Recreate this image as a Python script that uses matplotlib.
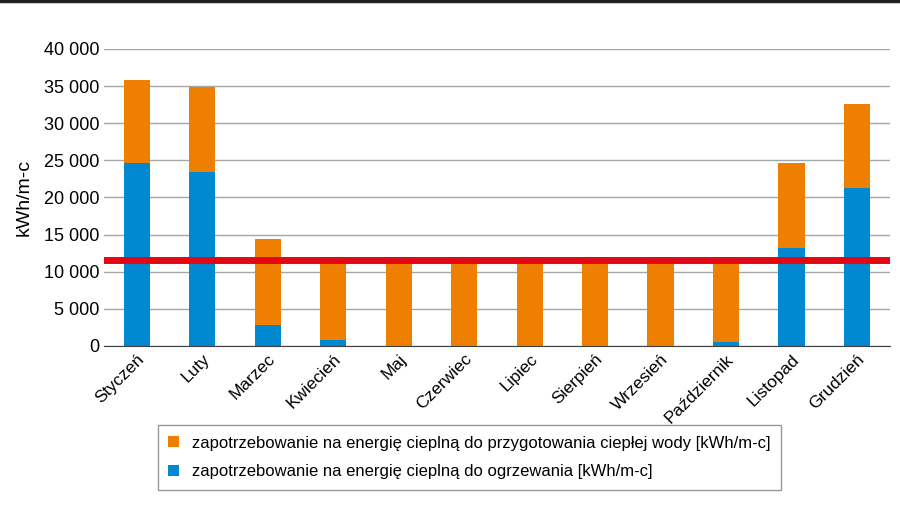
import matplotlib.pyplot as plt
from matplotlib.lines import Line2D
from matplotlib.ticker import FuncFormatter
import numpy as np

# data (kWh/m-c)
months = ['Styczeń', 'Luty', 'Marzec', 'Kwiecień', 'Maj', 'Czerwiec', 'Lipiec',
          'Sierpień', 'Wrzesień', 'Październik', 'Listopad', 'Grudzień']
heating = [24600, 23400, 2800, 800, 0, 0, 0, 0, 0, 500, 13200, 21300]
hot_water = [11200, 11500, 11600, 10500, 11300, 11300, 11300, 11300, 11300, 10800, 11400, 11300]
limit = 11600

orange = '#EE7F00'
blue = '#0089D0'
red = '#E30613'

plt.rcParams['font.family'] = ['Liberation Sans Narrow', 'Liberation Sans', 'DejaVu Sans']

fig = plt.figure(figsize=(9, 5.05), dpi=100)
ax = fig.add_axes([0.1156, 0.315, 0.873, 0.588])

x = np.arange(len(months))
ax.bar(x, heating, width=0.4, color=blue, zorder=2,
       label='zapotrzebowanie na energię cieplną do ogrzewania [kWh/m-c]')
ax.bar(x, hot_water, width=0.4, bottom=heating, color=orange, zorder=2,
       label='zapotrzebowanie na energię cieplną do przygotowania ciepłej wody [kWh/m-c]')
ax.axhline(limit, color=red, lw=5, zorder=3)

ax.set_xlim(-0.5, len(months) - 0.5)
ax.set_ylim(0, 40000)
ax.set_yticks(range(0, 40001, 5000))
ax.yaxis.set_major_formatter(FuncFormatter(lambda v, p: f'{int(v):,}'.replace(',', ' ')))
ax.grid(axis='y', color='#A6A6A6', lw=1, zorder=0)
for s in ['top', 'right', 'left']:
    ax.spines[s].set_visible(False)
ax.spines['bottom'].set_color('#404040')
ax.tick_params(axis='both', length=0, labelsize=13)
ax.tick_params(axis='x', pad=4)
ax.set_xticks(x)
ax.set_xticklabels(months, rotation=45, ha='right', rotation_mode='anchor', fontsize=12.5)
ax.set_ylabel('kWh/m-c', fontsize=14, labelpad=8)

handles, labels = ax.get_legend_handles_labels()
leg = fig.legend(handles[::-1], labels[::-1], loc='upper left',
                 bbox_to_anchor=(0.175, 0.158), bbox_transform=fig.transFigure,
                 fontsize=12, frameon=True, fancybox=False, edgecolor='#7F7F7F',
                 handlelength=0.6, handleheight=0.6, handletextpad=0.8,
                 borderpad=0.65, labelspacing=0.8, borderaxespad=0)
leg.get_frame().set_linewidth(1)
for h in leg.legend_handles:
    h.set_width(8)
    h.set_height(8)

fig.add_artist(Line2D([0, 1], [0.998, 0.998], color='#222222', lw=2.5, transform=fig.transFigure))

fig.savefig('out.png', dpi=100)
